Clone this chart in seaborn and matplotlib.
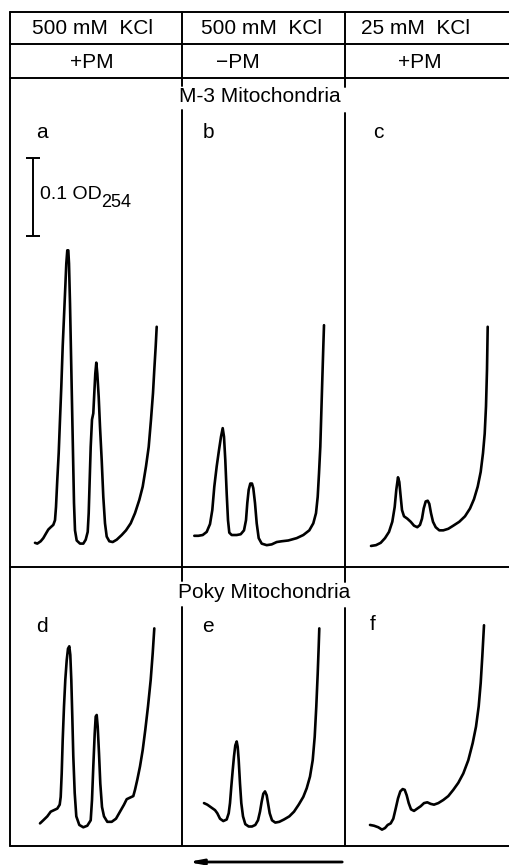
import matplotlib.pyplot as plt
from matplotlib.lines import Line2D
import pandas as pd
import seaborn as sns

# Sucrose gradient profiles (A254) of mitochondrial ribosomes.
# x: position along the gradient trace (chart units from the left edge of the panel)
# y: optical density at 254 nm above the panel floor
a_x = [2.50, 2.73, 3.07, 3.33, 3.60, 3.83, 4.07, 4.33, 4.50, 4.60, 4.73, 4.87, 5.00, 5.13,
       5.27, 5.40, 5.53, 5.63, 5.73, 5.83, 5.90, 6.00, 6.10, 6.20, 6.30, 6.40, 6.50, 6.67,
       7.00, 7.33, 7.57, 7.77, 7.87, 7.97, 8.07, 8.20, 8.33, 8.43, 8.53, 8.63, 8.73, 8.87,
       9.00, 9.17, 9.33, 9.50, 9.67, 9.93, 10.27, 10.67, 11.17, 11.60, 12.07, 12.50, 12.93,
       13.27, 13.60, 13.87, 14.10, 14.30, 14.43, 14.57, 14.67]
a_od = [0.031, 0.030, 0.033, 0.037, 0.043, 0.048, 0.051, 0.054, 0.060, 0.077, 0.112, 0.146,
        0.189, 0.231, 0.283, 0.321, 0.359, 0.389, 0.406, 0.406, 0.389, 0.338, 0.274, 0.210,
        0.146, 0.082, 0.047, 0.034, 0.030, 0.030, 0.035, 0.045, 0.069, 0.112, 0.154, 0.189,
        0.197, 0.223, 0.248, 0.262, 0.248, 0.218, 0.180, 0.137, 0.090, 0.056, 0.039, 0.033,
        0.032, 0.035, 0.041, 0.047, 0.056, 0.069, 0.086, 0.103, 0.129, 0.154, 0.189, 0.223,
        0.253, 0.283, 0.308]

b_x = [1.23, 1.63, 2.07, 2.47, 2.80, 3.03, 3.23, 3.47, 3.70, 3.90, 4.07, 4.20, 4.33, 4.47,
       4.60, 4.73, 4.97, 5.47, 5.87, 6.20, 6.40, 6.53, 6.67, 6.83, 7.00, 7.13, 7.30, 7.47,
       7.67, 7.97, 8.47, 8.97, 9.47, 9.97, 10.63, 11.47, 12.13, 12.73, 13.13, 13.40, 13.57,
       13.70, 13.83, 13.93, 14.03, 14.13, 14.20]
b_od = [0.040, 0.040, 0.041, 0.045, 0.055, 0.073, 0.103, 0.129, 0.150, 0.167, 0.178, 0.167,
        0.137, 0.094, 0.060, 0.044, 0.041, 0.041, 0.042, 0.047, 0.060, 0.082, 0.099, 0.107,
        0.107, 0.101, 0.082, 0.056, 0.037, 0.030, 0.028, 0.029, 0.032, 0.033, 0.034, 0.037,
        0.041, 0.047, 0.056, 0.069, 0.090, 0.120, 0.154, 0.197, 0.240, 0.282, 0.310]

c_x = [2.60, 3.10, 3.57, 4.00, 4.40, 4.73, 4.97, 5.13, 5.30, 5.43, 5.57, 5.70, 5.90, 6.23,
       6.57, 6.90, 7.23, 7.50, 7.70, 7.87, 8.07, 8.27, 8.43, 8.60, 8.80, 9.07, 9.43, 9.83,
       10.33, 10.83, 11.43, 12.00, 12.50, 12.90, 13.27, 13.57, 13.80, 13.97, 14.10, 14.20,
       14.27]
c_od = [0.027, 0.028, 0.031, 0.037, 0.045, 0.058, 0.077, 0.099, 0.115, 0.109, 0.090, 0.073,
        0.065, 0.062, 0.058, 0.053, 0.051, 0.054, 0.062, 0.075, 0.084, 0.085, 0.081, 0.069,
        0.058, 0.051, 0.047, 0.047, 0.049, 0.053, 0.058, 0.065, 0.075, 0.087, 0.103, 0.122,
        0.146, 0.171, 0.206, 0.253, 0.308]

d_x = [3.00, 3.33, 3.73, 4.07, 4.40, 4.73, 4.97, 5.07, 5.17, 5.27, 5.40, 5.53, 5.67, 5.80,
       5.93, 6.03, 6.13, 6.23, 6.33, 6.47, 6.63, 6.93, 7.33, 7.73, 8.07, 8.20, 8.33, 8.47,
       8.57, 8.67, 8.77, 8.90, 9.03, 9.20, 9.40, 9.73, 10.17, 10.60, 11.00, 11.40, 11.67,
       12.00, 12.33, 12.50, 12.73, 13.00, 13.27, 13.53, 13.80, 14.07, 14.27, 14.43]
d_od = [0.029, 0.033, 0.038, 0.044, 0.046, 0.048, 0.053, 0.063, 0.093, 0.136, 0.179, 0.213,
        0.238, 0.253, 0.256, 0.245, 0.213, 0.166, 0.115, 0.068, 0.038, 0.027, 0.024, 0.026,
        0.033, 0.059, 0.102, 0.144, 0.166, 0.168, 0.153, 0.119, 0.080, 0.050, 0.038, 0.031,
        0.031, 0.035, 0.044, 0.053, 0.060, 0.062, 0.064, 0.072, 0.085, 0.102, 0.123, 0.149,
        0.179, 0.213, 0.247, 0.279]

e_x = [2.20, 2.53, 2.97, 3.30, 3.53, 3.80, 4.13, 4.47, 4.67, 4.80, 4.93, 5.07, 5.20, 5.33,
       5.47, 5.57, 5.67, 5.80, 5.93, 6.10, 6.33, 6.67, 7.00, 7.33, 7.60, 7.80, 7.97, 8.13,
       8.30, 8.47, 8.60, 8.77, 9.00, 9.33, 9.73, 10.20, 10.73, 11.20, 11.67, 12.13, 12.47,
       12.80, 13.07, 13.27, 13.43, 13.57, 13.67, 13.73]
e_od = [0.055, 0.053, 0.049, 0.046, 0.042, 0.035, 0.032, 0.034, 0.042, 0.055, 0.076, 0.097,
        0.115, 0.129, 0.134, 0.127, 0.110, 0.080, 0.055, 0.038, 0.028, 0.025, 0.025, 0.027,
        0.033, 0.044, 0.057, 0.067, 0.070, 0.065, 0.055, 0.042, 0.033, 0.030, 0.031, 0.034,
        0.038, 0.044, 0.053, 0.063, 0.074, 0.089, 0.110, 0.140, 0.179, 0.221, 0.256, 0.279]

f_x = [2.50, 2.90, 3.33, 3.70, 4.00, 4.27, 4.57, 4.83, 5.07, 5.30, 5.53, 5.77, 5.97, 6.17,
       6.37, 6.60, 6.90, 7.23, 7.57, 7.90, 8.23, 8.57, 8.90, 9.33, 9.83, 10.33, 10.83, 11.33,
       11.83, 12.33, 12.77, 13.10, 13.37, 13.57, 13.73, 13.90]
f_od = [0.027, 0.026, 0.024, 0.021, 0.023, 0.027, 0.029, 0.035, 0.048, 0.061, 0.070, 0.073,
        0.072, 0.065, 0.055, 0.047, 0.045, 0.048, 0.051, 0.055, 0.056, 0.054, 0.053, 0.055,
        0.059, 0.064, 0.072, 0.081, 0.093, 0.110, 0.132, 0.153, 0.179, 0.209, 0.243, 0.283]

traces = {"a": (a_x, a_od), "b": (b_x, b_od), "c": (c_x, c_od),
          "d": (d_x, d_od), "e": (e_x, e_od), "f": (f_x, f_od)}

salt = ["500 mM  KCl", "500 mM  KCl", "25 mM  KCl"]
puromycin = ["+PM", "\u2212PM", "+PM"]
strains = ["M-3 Mitochondria", "Poky Mitochondria"]
scale_od = 0.1

sns.set_style("white")
plt.rcParams["font.family"] = ["Liberation Sans", "DejaVu Sans"]
plt.rcParams["text.color"] = "black"

W, H = 510, 865
fig = plt.figure(figsize=(W / 100, H / 100), dpi=100)


def fx(px):
    return px / W


def fy(py):
    return 1 - py / H


od_per_px = scale_od / 78
cols = [(10, 182), (182, 345), (345, 510)]
rows = [(78, 567), (567, 846)]
panel_axes = {}
for r, (top, bot) in enumerate(rows):
    for c, (left, right) in enumerate(cols):
        name = "abcdef"[r * 3 + c]
        ax = fig.add_axes([fx(left), fy(bot), (right - left) / W, (bot - top) / H])
        x, y = traces[name]
        sns.lineplot(ax=ax, data=pd.DataFrame({"pos": x, "od": y}), x="pos", y="od",
                     color="black", lw=1.9, sort=False, estimator=None,
                     solid_joinstyle="round", solid_capstyle="round")
        ax.set_xlim(0, (right - left) / 10)
        ax.set_ylim(0, (bot - top) * od_per_px)
        ax.set_axis_off()
        panel_axes[name] = ax

# 0.1 OD254 scale bar in panel a
ax = panel_axes["a"]
bar_bottom = 0.4244
ax.errorbar([2.3], [bar_bottom + scale_od / 2], yerr=scale_od / 2, color="black",
            lw=1.4, capsize=5, capthick=1.4)
od_label = ax.text(3.0, bar_bottom + scale_od / 2 + 0.003, "0.1 OD", fontsize=14,
                   va="center", ha="left", color="black")
ax.annotate("254", xy=(0.985, 0.55), xycoords=od_label, fontsize=13,
            ha="left", va="top", color="black")

# table frame
lw = 1.4
segments = [
    ((10, 12), (510, 12)), ((10, 44), (510, 44)), ((10, 78), (510, 78)),
    ((10, 567), (510, 567)), ((10, 846), (510, 846)), ((10, 12), (10, 846)),
    ((182, 12), (182, 86)), ((182, 110), (182, 581)), ((182, 607), (182, 846)),
    ((345, 12), (345, 87)), ((345, 113), (345, 582)), ((345, 608), (345, 846)),
]
for (x0, y0), (x1, y1) in segments:
    fig.add_artist(Line2D([fx(x0), fx(x1)], [fy(y0), fy(y1)], color="black", lw=lw))

for label, cx in zip(salt, [93, 262, 416]):
    fig.text(fx(cx), fy(29), label, fontsize=15, ha="center", va="center", color="black")
for label, cx in zip(puromycin, [92, 238, 420]):
    fig.text(fx(cx), fy(62), label, fontsize=15, ha="center", va="center", color="black")

fig.text(fx(260), fy(97), strains[0], fontsize=15, ha="center", va="center", color="black")
fig.text(fx(264), fy(593), strains[1], fontsize=15, ha="center", va="center", color="black")

for name, (px, py) in zip("abcdef", [(42, 132), (208, 132), (378, 132),
                                      (42, 626), (208, 626), (373, 625)]):
    fig.text(fx(px), fy(py), name, fontsize=15, ha="center", va="center", color="black")

# direction of sedimentation
fig.add_artist(plt.Annotation("", xy=(fx(185), fy(862)), xytext=(fx(345), fy(862)),
                              xycoords="figure fraction", textcoords="figure fraction",
                              arrowprops=dict(arrowstyle="-|>,head_length=0.8,head_width=0.15",
                                              color="black", lw=2)))

fig.savefig("out.png", dpi=100)
